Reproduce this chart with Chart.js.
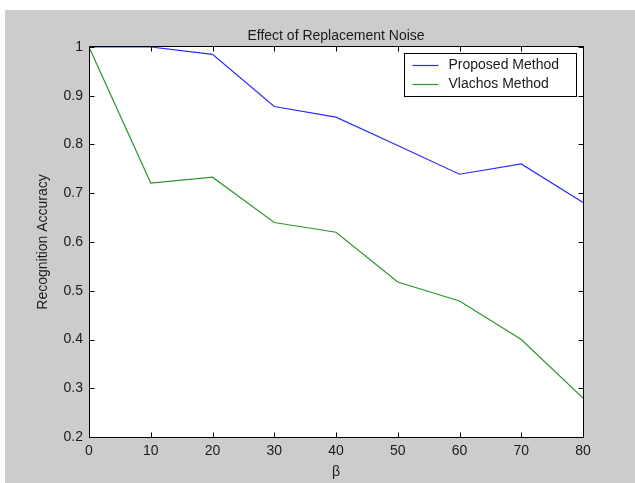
<!DOCTYPE html>
<html>
<head>
<meta charset="utf-8">
<script src="https://cdn.jsdelivr.net/npm/chart.js@4.4.1/dist/chart.umd.min.js"></script>
<style>
html, body { margin: 0; padding: 0; background: #fff; }
#frame { position: absolute; left: 5px; top: 10px; width: 630px; height: 473px; background: #cccccc; }
</style>
</head>
<body>
<div id="frame"><canvas id="chart" width="630" height="473"></canvas></div>
<script>
// values
const beta = [0, 10, 20, 30, 40, 50, 60, 70, 80];
const proposed = [1.0, 1.0, 0.985, 0.878, 0.856, 0.798, 0.739, 0.760, 0.681];
const vlachos = [1.0, 0.721, 0.733, 0.640, 0.620, 0.518, 0.479, 0.400, 0.280];
const seriesNames = ["Proposed Method", "Vlachos Method"];
const xTicks = [0, 10, 20, 30, 40, 50, 60, 70, 80];
const yTicks = [0.2, 0.3, 0.4, 0.5, 0.6, 0.7, 0.8, 0.9, 1];

const titleText = "Effect of Replacement Noise";
const xTitle = "\u03b2";
const yTitle = "Recognition Accuracy";

const FONT = "'Liberation Sans', Arial, Helvetica, sans-serif";
const TEXT = "#1a1a1a";
Chart.defaults.font.family = FONT;
Chart.defaults.font.size = 14;
Chart.defaults.color = TEXT;

function points(values) {
    return beta.map((b, i) => ({x: b, y: values[i]}));
}

// white axes box, inside ticks on all four sides, and the axis/figure texts
const matlabAxes = {
    id: "matlabAxes",
    beforeDraw(chart) {
        const {ctx, chartArea: a} = chart;
        ctx.save();
        ctx.fillStyle = "#ffffff";
        ctx.fillRect(a.left, a.top, a.right - a.left, a.bottom - a.top);
        ctx.restore();
    },
    afterDatasetsDraw(chart) {
        const {ctx, chartArea: a, scales} = chart;
        const L = a.left + 0.5, R = a.right + 0.5, T = a.top - 0.5, B = a.bottom + 0.5;
        ctx.save();
        ctx.strokeStyle = "#000";
        ctx.lineWidth = 1;
        ctx.beginPath();
        ctx.rect(L, T, R - L, B - T);
        xTicks.forEach((v) => {
            const px = Math.round(scales.x.getPixelForValue(v)) + 0.5;
            ctx.moveTo(px, B); ctx.lineTo(px, B - 5);
            ctx.moveTo(px, T); ctx.lineTo(px, T + 5);
        });
        yTicks.forEach((v) => {
            const py = Math.round(scales.y.getPixelForValue(v)) + 0.5;
            ctx.moveTo(L, py); ctx.lineTo(L + 5, py);
            ctx.moveTo(R, py); ctx.lineTo(R - 5, py);
        });
        ctx.stroke();

        ctx.fillStyle = TEXT;
        ctx.font = `14px ${FONT}`;
        ctx.textAlign = "center";
        ctx.textBaseline = "middle";
        ctx.fillText(titleText, (a.left + a.right) / 2, 26);
        ctx.fillText(xTitle, (a.left + a.right) / 2, 462);
        ctx.translate(38, (a.top + a.bottom) / 2);
        ctx.rotate(-Math.PI / 2);
        ctx.fillText(yTitle, 0, 0);
        ctx.restore();
    },
    afterDraw(chart) {
        const {ctx, chartArea: a} = chart;
        const w = 172, h = 43;
        const bx = a.right - 7 - w + 0.5, by = a.top + 6 + 0.5;
        ctx.save();
        ctx.fillStyle = "#fff";
        ctx.fillRect(bx, by, w, h);
        ctx.strokeStyle = "#000";
        ctx.lineWidth = 1;
        ctx.strokeRect(bx, by, w, h);
        ctx.font = `14px ${FONT}`;
        ctx.textAlign = "left";
        ctx.textBaseline = "middle";
        chart.data.datasets.forEach((ds, i) => {
            const y = Math.round(by + 11 + i * 19) + 0.5;
            ctx.strokeStyle = ds.borderColor;
            ctx.lineWidth = ds.borderWidth;
            ctx.beginPath();
            ctx.moveTo(bx + 8, y);
            ctx.lineTo(bx + 34, y);
            ctx.stroke();
            ctx.fillStyle = TEXT;
            ctx.fillText(ds.label, bx + 44, y);
        });
        ctx.restore();
    }
};

new Chart(document.getElementById("chart"), {
    type: "line",
    data: {
        datasets: [
            {label: seriesNames[0], data: points(proposed), borderColor: "#2a2aff", borderWidth: 1.2, pointRadius: 0, tension: 0},
            {label: seriesNames[1], data: points(vlachos), borderColor: "#2c962c", borderWidth: 1.2, pointRadius: 0, tension: 0}
        ]
    },
    options: {
        responsive: false,
        animation: false,
        events: [],
        layout: {padding: {left: 0, right: 52, top: 37, bottom: 0}},
        plugins: {legend: {display: false}, title: {display: false}, tooltip: {enabled: false}},
        scales: {
            x: {
                type: "linear", min: 0, max: 80,
                afterBuildTicks: (s) => { s.ticks = xTicks.map((v) => ({value: v})); },
                afterFit: (s) => { s.height = 46; },
                grid: {display: false, drawTicks: false},
                border: {display: false},
                ticks: {padding: 6, color: TEXT, maxRotation: 0, autoSkip: false}
            },
            y: {
                type: "linear", min: 0.2, max: 1,
                afterBuildTicks: (s) => { s.ticks = yTicks.map((v) => ({value: v})); },
                afterFit: (s) => { s.width = 84; },
                grid: {display: false, drawTicks: false},
                border: {display: false},
                ticks: {padding: 6, color: TEXT, callback: (v) => String(Number(v.toFixed(1)))}
            }
        }
    },
    plugins: [matlabAxes]
});
</script>
</body>
</html>
